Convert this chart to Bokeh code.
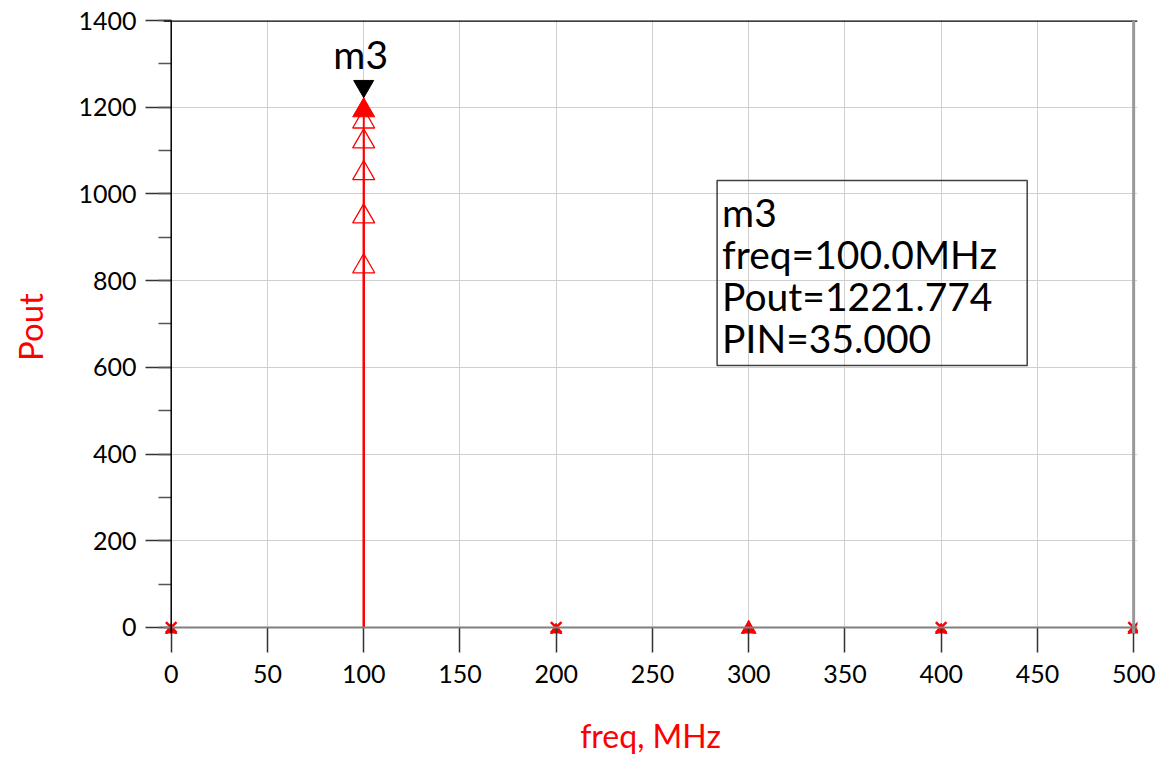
from bokeh.plotting import figure
from bokeh.models import Range1d, FixedTicker, Label, BoxAnnotation, Span, ColumnDataSource
from bokeh.transform import dodge
from bokeh.embed import file_html
from bokeh.resources import INLINE

# ---- data ----
freq = [0, 100, 200, 300, 400, 500]          # MHz
pin_values = [10, 15, 20, 25, 30, 35]        # PIN sweep
pout_pin10 = [2.0, 862.0, 2.0, 4.0, 2.0, 2.0]
pout_pin15 = [3.0, 977.0, 3.0, 6.0, 3.0, 3.0]
pout_pin20 = [4.0, 1077.0, 4.0, 8.0, 4.0, 4.0]
pout_pin25 = [5.0, 1150.0, 5.0, 10.0, 5.0, 5.0]
pout_pin30 = [6.0, 1196.0, 6.0, 12.0, 6.0, 6.0]
pout_pin35 = [9.0, 1221.774, 9.0, 16.0, 9.0, 9.0]
open_series = [pout_pin10, pout_pin15, pout_pin20, pout_pin25, pout_pin30]
x_mark_freq = [0, 200, 400, 500]
x_mark_pout = [0.0, 0.0, 0.0, 0.0]
marker_name = "m3"
marker_idx = 1
marker_pin = pin_values[-1]
marker_freq = freq[marker_idx]
marker_pout = pout_pin35[marker_idx]
x_ticks = list(range(0, 501, 50))
y_ticks = list(range(0, 1401, 200))
y_minor = list(range(0, 1401, 100))

FONT = "Lato"
RED = "#ff0000"
W, H = 1156, 758
Y0, Y1 = -14, 1400        # small margin below zero, as in the original plot window
X0, X1 = -4, 502          # small margin so end markers are not clipped
XMIN, XMAX = 0, 500       # visible axis extent
BL, BR, BT, BB = 163, 19, 20, 125
frame_h = H - BT - BB
px_per_unit = frame_h / float(Y1 - Y0)

p = figure(width=W, height=H, x_range=Range1d(X0, X1), y_range=Range1d(Y0, Y1),
           output_backend="svg", toolbar_location=None,
           min_border_left=BL, min_border_right=BR, min_border_top=BT, min_border_bottom=BB)
p.background_fill_color = "white"
p.border_fill_color = "white"
p.outline_line_color = None

# grid
p.xgrid.ticker = FixedTicker(ticks=x_ticks)
p.ygrid.ticker = FixedTicker(ticks=y_ticks)
p.xgrid.grid_line_color = "#d0d0d0"
p.ygrid.grid_line_color = "#d0d0d0"

# axes
xa = p.xaxis[0]
xa.ticker = FixedTicker(ticks=x_ticks)
xa.axis_line_color = None
xa.major_tick_out = 19
xa.major_tick_in = 6
xa.major_tick_line_color = "#333333"
xa.major_tick_line_width = 1.5
xa.minor_tick_line_color = None
xa.major_label_text_font = FONT
xa.major_label_text_font_size = "25px"
xa.major_label_text_color = "black"
xa.major_label_standoff = 12
xa.axis_label = "freq, MHz"
xa.axis_label_text_font = FONT
xa.axis_label_text_font_size = "32px"
xa.axis_label_text_font_style = "normal"
xa.axis_label_text_color = RED
xa.axis_label_standoff = 30

ya = p.yaxis[0]
ya.ticker = FixedTicker(ticks=y_ticks, minor_ticks=y_minor)
ya.axis_line_color = None
ya.major_tick_out = 18
ya.major_tick_in = 8
ya.minor_tick_out = 5
ya.minor_tick_in = 8
ya.major_tick_line_color = "#333333"
ya.major_tick_line_width = 1.5
ya.minor_tick_line_color = "#555555"
ya.minor_tick_line_width = 1.5
ya.major_label_text_font = FONT
ya.major_label_text_font_size = "25px"
ya.major_label_text_color = "black"
ya.major_label_standoff = 9
ya.axis_label = "Pout"
ya.axis_label_text_font = FONT
ya.axis_label_text_font_size = "33px"
ya.axis_label_text_font_style = "normal"
ya.axis_label_text_color = RED
ya.axis_label_standoff = 25

# frame borders: left axis black, top black, right gray, zero line darker gray
p.add_layout(Span(location=Y1, dimension="width", line_color="black", line_width=2.5))
p.add_layout(Span(location=XMAX, dimension="height", line_color="#999999", line_width=3))
p.add_layout(Span(location=0, dimension="width", line_color="#808080", line_width=2))
p.add_layout(Span(location=XMIN, dimension="height", line_color="black", line_width=1.5))

# stems
for s in open_series + [pout_pin35]:
    p.segment(x0=freq, y0=[0] * len(freq), x1=freq, y1=s, line_color=RED, line_width=1.6)

TRI = 22
tri_off = 0.577 * TRI / px_per_unit  # apex of triangle sits on the data point
for s in open_series:
    src = ColumnDataSource(dict(freq=freq, pout=s))
    p.scatter(x="freq", y=dodge("pout", -tri_off, range=p.y_range), source=src,
              marker="triangle", size=TRI, fill_color=None, line_color=RED, line_width=1.3)

src35 = ColumnDataSource(dict(freq=freq, pout=pout_pin35))
p.scatter(x="freq", y=dodge("pout", -tri_off, range=p.y_range), source=src35,
          marker="triangle", size=TRI, fill_color=RED, line_color=RED, line_width=1)

p.scatter(x=x_mark_freq, y=x_mark_pout, marker="x", size=15, line_color=RED, line_width=2.5)

# marker m3 (black inverted triangle with tip on the point)
MK = 20
mk_off = 0.577 * MK / px_per_unit
msrc = ColumnDataSource(dict(freq=[marker_freq], pout=[marker_pout]))
p.scatter(x="freq", y=dodge("pout", mk_off, range=p.y_range), source=msrc,
          marker="inverted_triangle", size=MK, fill_color="black", line_color="black")
p.add_layout(Label(x=marker_freq, y=marker_pout, text=marker_name, text_align="center",
                   text_baseline="alphabetic", y_offset=44, x_offset=-3, text_font=FONT,
                   text_font_size="39px", text_color="black"))

# readout box
box_left, box_right, box_top, box_bottom = 283.6, 444.7, 1031.0, 604.0
p.add_layout(BoxAnnotation(left=box_left, right=box_right, top=box_top, bottom=box_bottom,
                           fill_alpha=0, line_color="#404040", line_alpha=1.0, line_width=1.5))
lines = [marker_name,
         f"freq={marker_freq:.1f}MHz",
         f"Pout={marker_pout:.3f}",
         f"PIN={marker_pin:.3f}"]
for i, t in enumerate(lines):
    p.add_layout(Label(x=box_left, y=box_top, text=t, x_offset=5, y_offset=-(32 + 42 * i),
                       text_baseline="alphabetic", text_align="left", text_font=FONT,
                       text_font_size="39px", text_color="black"))

open("out.html", "w").write(file_html(p, INLINE))
